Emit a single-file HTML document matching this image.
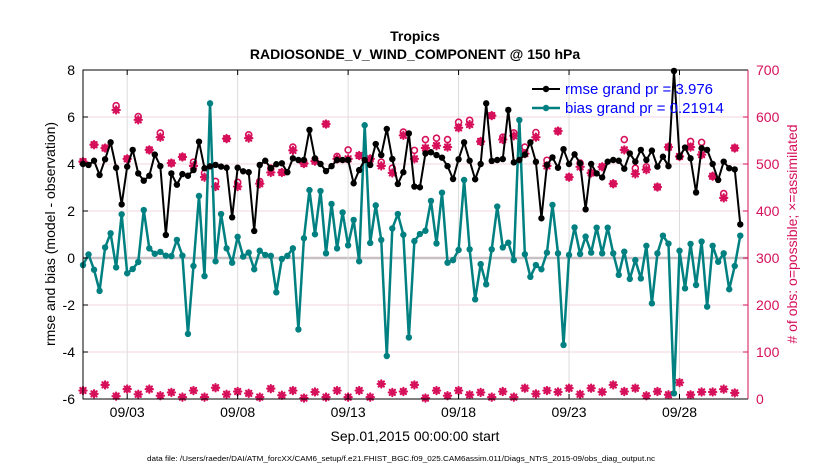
<!DOCTYPE html>
<html><head><meta charset="utf-8"><style>
body{margin:0;background:#fff;}
svg{display:block;font-family:"Liberation Sans",Arial,sans-serif;}
</style></head><body>
<svg id="chart" width="830" height="470" viewBox="0 0 830 470" xmlns="http://www.w3.org/2000/svg">
<rect width="830" height="470" fill="#fff"/>
<g id="grid"></g>
<g id="series"></g>
<g id="axes"></g>
<text x="415" y="41" text-anchor="middle" font-size="14" font-weight="bold">Tropics</text>
<text x="415" y="59" text-anchor="middle" font-size="14" font-weight="bold">RADIOSONDE_V_WIND_COMPONENT @ 150 hPa</text>
<text transform="translate(55,234) rotate(-90)" text-anchor="middle" font-size="14">rmse and bias (model - observation)</text>
<text transform="translate(797,234) rotate(-90)" text-anchor="middle" font-size="14" fill="#d6105a"># of obs: o=possible; ×=assimilated</text>
<text x="415" y="441" text-anchor="middle" font-size="14">Sep.01,2015 00:00:00 start</text>
<text x="401" y="461" text-anchor="middle" font-size="7.5" textLength="508" lengthAdjust="spacingAndGlyphs">data file: /Users/raeder/DAI/ATM_forcXX/CAM6_setup/f.e21.FHIST_BGC.f09_025.CAM6assim.011/Diags_NTrS_2015-09/obs_diag_output.nc</text>
<g id="legend">
<line x1="532" y1="89" x2="560" y2="89" stroke="#000" stroke-width="2"/>
<circle cx="546" cy="89" r="3.2" fill="#000"/>
<text x="565" y="94" font-size="15" fill="#0000ff">rmse grand pr = 3.976</text>
<line x1="532" y1="108" x2="560" y2="108" stroke="#008080" stroke-width="2.5"/>
<circle cx="546" cy="108" r="3.2" fill="#008080"/>
<text x="565" y="113" font-size="15" fill="#0000ff">bias grand pr = 0.21914</text>
</g>
</svg>
<script>
const rmse=[4.0,3.96,4.14,3.53,4.2,4.92,3.84,2.28,3.89,4.6,3.6,3.29,3.5,4.4,3.91,0.98,3.6,3.12,3.57,3.5,3.74,4.95,3.82,3.9,3.96,3.89,3.84,1.73,3.84,3.69,3.65,1.15,3.96,4.14,3.82,3.99,4.03,3.65,4.24,4.17,4.17,5.45,4.24,4.0,3.7,3.91,4.17,4.17,4.17,3.18,3.74,4.17,3.96,4.85,4.38,5.49,4.21,3.15,3.65,5.3,3.04,3.01,4.45,4.5,4.38,4.27,3.91,3.36,4.2,4.92,4.14,3.35,4.0,6.58,4.13,4.17,4.21,6.3,4.07,4.17,4.4,4.92,4.09,1.69,3.96,4.28,3.84,4.63,4.0,4.41,4.03,2.07,4.0,3.6,3.43,4.1,4.17,4.14,3.8,4.45,4.1,4.6,4.17,4.57,3.89,4.31,3.91,7.96,4.31,4.7,4.24,2.79,4.67,4.6,4.0,3.32,4.1,3.82,3.77,1.43];
const bias=[-0.3,0.15,-0.5,-1.4,0.45,1.05,-0.4,1.86,-0.65,-0.47,-0.17,2.04,0.41,0.18,0.26,0.1,0.08,0.77,0.1,-3.23,-0.34,2.64,-0.77,6.58,-0.14,1.87,0.41,-0.2,0.9,0.06,0.23,-0.48,0.31,0.13,0.09,-1.46,-0.04,0.09,0.41,-3.04,0.84,2.89,1.01,2.85,0.2,2.3,0.41,1.94,0.54,1.62,-0.14,5.65,0.64,2.24,0.77,-4.17,1.26,1.87,0.99,-3.38,0.72,1.02,1.16,2.43,0.62,2.78,-0.2,-0.09,0.34,3.32,0.37,-1.76,-0.26,-1.12,0.37,2.19,0.45,0.65,-0.09,5.87,0.16,-0.8,-0.3,-0.48,0.23,2.26,0.2,-3.7,0.13,1.3,0.17,0.91,0.23,1.29,0.2,1.29,0.2,-0.72,0.27,-0.89,-0.09,-0.87,0.52,-1.93,0.2,0.95,0.61,-5.76,0.31,-1.29,0.6,-1.15,0.7,-2.07,0.52,-0.16,0.2,-1.33,-0.34,0.95];
const nPossible=[505,541,534,624,511,601,530,566,502,515,504,481,463,554,461,562,463,491,482,536,501,506,585,516,530,518,511,504,491,568,529,552,555,552,589,593,548,603,557,566,536,567,508,570,472,502,481,494,458,552,491,494,451,536,516,548,546,474,437,534];
const nAssim=[505,541,534,615,511,594,530,557,502,515,496,472,452,554,452,555,458,482,482,529,501,506,585,511,511,518,511,496,481,561,511,534,539,536,577,584,548,603,552,560,522,557,496,570,472,494,481,494,458,530,479,488,451,536,516,536,520,474,428,534];
const nBottom=[18,11,30,6,21,10,21,7,14,4,18,4,24,10,16,12,4,22,8,18,2,15,4,18,4,18,4,32,14,16,30,2,18,7,18,9,14,4,16,4,23,11,18,15,23,10,23,15,30,16,23,7,16,9,35,9,15,15,21,13];
const leftTicks=[-6,-4,-2,0,2,4,6,8];
const rightTicks=[0,100,200,300,400,500,600,700];
const dateDays=[3,8,13,18,23,28];
const dateLabels=["09/03","09/08","09/13","09/18","09/23","09/28"];

const L=83,R=748,T=70,B=399;
const dayMin=1,dayMax=31.1;
const xDay=d=>L+(d-dayMin)/(dayMax-dayMin)*(R-L);
const xIdx=i=>xDay(1+i*0.25);
const yL=v=>B-(v+6)/14*(B-T);
const yR=v=>B-v/700*(B-T);
const NS="http://www.w3.org/2000/svg";
function mk(tag,attrs,parent){const e=document.createElementNS(NS,tag);for(const k in attrs)e.setAttribute(k,attrs[k]);parent.appendChild(e);return e;}
const grid=document.getElementById('grid'),ser=document.getElementById('series'),ax=document.getElementById('axes');
const RED="#d6105a";

leftTicks.forEach(v=>{
  const g=mk('line',{x1:L,x2:R,y1:yL(v),y2:yL(v),stroke:v===0?"#c8c0c4":"#f2d4de","stroke-width":v===0?2.5:1},grid);
  
  
  const t=mk('text',{x:L-8,y:yL(v)+5,"text-anchor":"end","font-size":14},ax);t.textContent=v;
  
  
  mk('line',{x1:L,x2:L+5,y1:yL(v),y2:yL(v),stroke:"#000"},ax);
});
dateDays.forEach((d,k)=>{
  const g=mk('line',{x1:xDay(d),x2:xDay(d),y1:T,y2:B,stroke:"#dcdcdc","stroke-width":1},grid);
  
  
  mk('line',{x1:xDay(d),x2:xDay(d),y1:B,y2:B-5,stroke:"#000"},ax);
  mk('line',{x1:xDay(d),x2:xDay(d),y1:T,y2:T+5,stroke:"#000"},ax);
  const t=mk('text',{x:xDay(d),y:417,"text-anchor":"middle","font-size":14},ax);t.textContent=dateLabels[k];
  
  
});
rightTicks.forEach(v=>{
  mk('line',{x1:R,x2:R-5,y1:yR(v),y2:yR(v),stroke:RED},ax);
  const t=mk('text',{x:R+8,y:yR(v)+5,"font-size":14,fill:RED},ax);t.textContent=v;
  
  
});
mk('path',{d:`M${R},${T}H${L}V${B}H${R}`,fill:"none",stroke:"#000","stroke-width":1},ax);
mk('line',{x1:R,x2:R,y1:T,y2:B,stroke:RED,"stroke-width":1},ax);

function star(x,y,parent,name){
  const g=mk('g',{stroke:RED,"stroke-width":2.2,"stroke-linecap":"round"},parent);
  
  
  const r=3.6,d=2.6;
  mk('line',{x1:x-r,x2:x+r,y1:y,y2:y},g);mk('line',{x1:x,x2:x,y1:y-r,y2:y+r},g);
  mk('line',{x1:x-d,x2:x+d,y1:y-d,y2:y+d},g);mk('line',{x1:x-d,x2:x+d,y1:y+d,y2:y-d},g);
}
nPossible.forEach((v,k)=>{
  const c=mk('circle',{cx:xIdx(2*k),cy:yR(v),r:3,fill:"none",stroke:RED,"stroke-width":1.6},ser);
  
  
});
nAssim.forEach((v,k)=>star(xIdx(2*k),yR(v),ser,'assimilated-obs-marker'));
nBottom.forEach((v,k)=>star(xIdx(2*k),yR(v),ser,'low-count-obs-marker'));

function line(vals,color,w,name){
  const p=mk('polyline',{points:vals.map((v,i)=>xIdx(i)+","+yL(v)).join(" "),fill:"none",stroke:color,"stroke-width":w,"stroke-linejoin":"round"},ser);
  
  
  vals.forEach((v,i)=>{
    const c=mk('circle',{cx:xIdx(i),cy:yL(v),r:3.2,fill:color},ser);
    
    
  });
}
line(bias,"#008080",2.5,'bias');
line(rmse,"#000",2,'rmse');
</script>
</body></html>
